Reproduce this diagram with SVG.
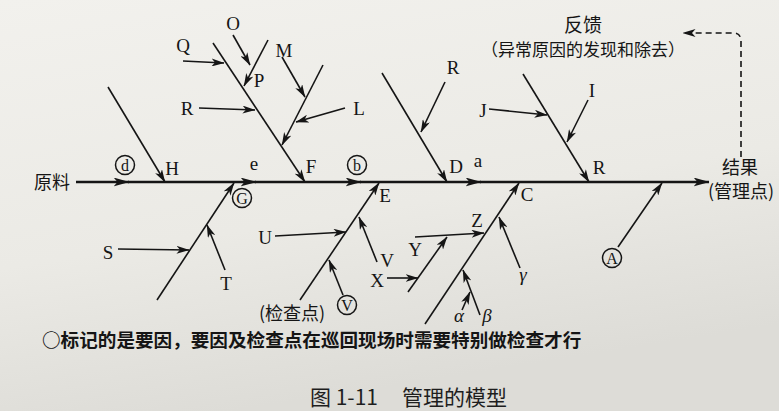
<svg xmlns="http://www.w3.org/2000/svg" width="779" height="411" viewBox="0 0 779 411">
<defs>
<linearGradient id="bg" x1="0" y1="0" x2="0.3" y2="1">
<stop offset="0" stop-color="#f2f1ed"/>
<stop offset="0.6" stop-color="#ebeae5"/>
<stop offset="1" stop-color="#dddcd7"/>
</linearGradient>
<marker id="ah" viewBox="0 0 13 8" refX="12.5" refY="4" markerWidth="13" markerHeight="8" orient="auto" markerUnits="userSpaceOnUse">
<path d="M0,0 L13,4 L0,8 L3.5,4 z" fill="#151515"/>
</marker>
<marker id="ahs" viewBox="0 0 16 9" refX="15.5" refY="4.5" markerWidth="16" markerHeight="9" orient="auto" markerUnits="userSpaceOnUse">
<path d="M0,0 L16,4.5 L0,9 L4,4.5 z" fill="#151515"/>
</marker>
</defs>
<style>
.ln{stroke:#151515;stroke-width:1.6;fill:none;marker-end:url(#ah)}
.sp{stroke:#151515;stroke-width:2.3;fill:none;marker-end:url(#ahs)}
.dash{stroke:#151515;stroke-width:1.6;fill:none;stroke-dasharray:6 4;marker-end:url(#ah)}
.lt{font-family:"Liberation Serif","DejaVu Serif",serif;font-size:19px;fill:#151515;text-anchor:middle}
.lc{font-family:"Liberation Serif","DejaVu Serif",serif;font-size:16px;fill:#151515;text-anchor:middle}
.gk{font-family:"Liberation Serif","DejaVu Serif",serif;font-size:19px;font-style:italic;fill:#151515;text-anchor:middle}
.cj{font-family:"Noto Sans CJK SC","Noto Sans",sans-serif;font-size:18px;fill:#151515;text-anchor:middle}
.cir{fill:none;stroke:#151515;stroke-width:1.5}
</style>
<rect width="779" height="411" fill="url(#bg)"/>

<g id="connectors">
<!-- spine -->
<line class="sp" x1="76" y1="182" x2="129" y2="182"/>
<line class="sp" x1="128" y1="182" x2="256" y2="182"/>
<line class="sp" x1="255" y1="182" x2="361" y2="182"/>
<line class="sp" x1="360" y1="182" x2="481" y2="182"/>
<line class="sp" x1="480" y1="182" x2="709" y2="182"/>
<!-- upper main bones -->
<line class="ln" x1="108" y1="87" x2="165" y2="182"/>
<line class="ln" x1="213" y1="43" x2="305" y2="182"/>
<line class="ln" x1="382" y1="73" x2="447" y2="182"/>
<line class="ln" x1="523" y1="74" x2="589" y2="182"/>
<!-- F bone subs -->
<line class="ln" x1="183" y1="61" x2="224" y2="63"/>
<line class="ln" x1="233" y1="35" x2="250" y2="65"/>
<line class="ln" x1="268" y1="40" x2="244" y2="86"/>
<line class="ln" x1="199" y1="108" x2="255" y2="110"/>
<line class="ln" x1="323" y1="65" x2="282" y2="145"/>
<line class="ln" x1="282" y1="57" x2="305" y2="97"/>
<line class="ln" x1="345" y1="108" x2="296" y2="122"/>
<!-- D bone sub -->
<line class="ln" x1="445" y1="82" x2="421" y2="132"/>
<!-- R bone subs -->
<line class="ln" x1="489" y1="109" x2="547" y2="115"/>
<line class="ln" x1="588" y1="100" x2="567" y2="142"/>
<!-- lower bones -->
<line class="ln" x1="157" y1="300" x2="234" y2="183"/>
<line class="ln" x1="118" y1="249" x2="189" y2="250"/>
<line class="ln" x1="225" y1="270" x2="207" y2="225"/>
<line class="ln" x1="300" y1="300" x2="379" y2="183"/>
<line class="ln" x1="275" y1="236" x2="346" y2="232"/>
<line class="ln" x1="377" y1="262" x2="359" y2="217"/>
<line class="ln" x1="343" y1="295" x2="329" y2="260"/>
<line class="ln" x1="387" y1="278" x2="418" y2="278"/>
<line class="ln" x1="408" y1="292" x2="447" y2="237"/>
<line class="ln" x1="415" y1="237" x2="484" y2="233"/>
<line class="ln" x1="425" y1="324" x2="519" y2="183"/>
<line class="ln" x1="520" y1="268" x2="499" y2="217"/>
<line class="ln" x1="480" y1="315" x2="463" y2="270"/>
<line class="ln" x1="462" y1="310" x2="470" y2="292"/>
<line class="ln" x1="618" y1="247" x2="662" y2="183"/>
<!-- feedback -->
<path class="dash" d="M741,157 L741,41 Q741,33 733,33 L683,33"/>
</g>

<g id="n-yuanliao"><text class="cj" x="52" y="189">原料</text></g>
<g id="n-d"><circle class="cir" cx="125" cy="165" r="9.5"/><text class="lc" x="125" y="170.5">d</text></g>
<g id="n-H"><text class="lt" x="172" y="174.5">H</text></g>
<g id="n-e"><text class="lt" x="254" y="170">e</text></g>
<g id="n-F"><text class="lt" x="311" y="172.5">F</text></g>
<g id="n-b"><circle class="cir" cx="357" cy="165" r="9.5"/><text class="lc" x="357" y="170.5">b</text></g>
<g id="n-O"><text class="lt" x="233" y="29.5">O</text></g>
<g id="n-Q"><text class="lt" x="183" y="51.5">Q</text></g>
<g id="n-P"><text class="lt" x="259" y="86.5">P</text></g>
<g id="n-M"><text class="lt" x="284" y="56.5">M</text></g>
<g id="n-R1"><text class="lt" x="187" y="114.5">R</text></g>
<g id="n-L"><text class="lt" x="359" y="114.5">L</text></g>
<g id="n-R2"><text class="lt" x="453" y="73.5">R</text></g>
<g id="n-D"><text class="lt" x="456" y="172.5">D</text></g>
<g id="n-a"><text class="lt" x="478" y="167">a</text></g>
<g id="n-J"><text class="lt" x="483" y="116.5">J</text></g>
<g id="n-I"><text class="lt" x="592" y="96.5">I</text></g>
<g id="n-R3"><text class="lt" x="599" y="173.5">R</text></g>
<g id="n-feedback">
<text class="cj" x="583" y="32" style="font-size:19px">反馈</text>
<text class="cj" x="583" y="55.5" style="font-size:17px">（异常原因的发现和除去）</text>
</g>
<g id="n-result">
<text class="cj" x="740" y="174">结果</text>
<text class="cj" x="741" y="198">(管理点)</text>
</g>
<g id="n-G"><circle class="cir" cx="242" cy="198" r="9.5"/><text class="lc" x="242" y="203.5">G</text></g>
<g id="n-S"><text class="lt" x="108" y="258.5">S</text></g>
<g id="n-T"><text class="lt" x="226" y="289.5">T</text></g>
<g id="n-E"><text class="lt" x="385" y="201.5">E</text></g>
<g id="n-U"><text class="lt" x="265" y="243.5">U</text></g>
<g id="n-V"><text class="lt" x="387" y="266.5">V</text></g>
<g id="n-Vc"><circle class="cir" cx="347" cy="305" r="9.5"/><text class="lc" x="347" y="310.5">V</text></g>
<g id="n-X"><text class="lt" x="377" y="286.5">X</text></g>
<g id="n-check"><text class="cj" x="292" y="320">(检查点)</text></g>
<g id="n-Y"><text class="lt" x="415" y="255.5">Y</text></g>
<g id="n-Z"><text class="lt" x="477" y="226.5">Z</text></g>
<g id="n-C"><text class="lt" x="527" y="200.5">C</text></g>
<g id="n-gamma"><text class="gk" x="523" y="281">γ</text></g>
<g id="n-alpha"><text class="gk" x="459" y="322">α</text></g>
<g id="n-beta"><text class="gk" x="487" y="322">β</text></g>
<g id="n-A"><circle class="cir" cx="612" cy="258" r="9.5"/><text class="lc" x="612" y="263.5">A</text></g>

<g id="note"><text x="42" y="346.5" style="font-family:'Noto Sans CJK SC','Noto Sans',sans-serif;font-size:18.6px;font-weight:bold;fill:#151515">○标记的是要因，要因及检查点在巡回现场时需要特别做检查才行</text></g>
<g id="caption">
<text x="310" y="405" style="font-family:'Noto Sans CJK SC','Noto Sans',sans-serif;font-size:21px;fill:#1e1e1e">图 1-11</text>
<text x="402" y="405" style="font-family:'Noto Sans CJK SC','Noto Sans',sans-serif;font-size:21px;fill:#1e1e1e">管理的模型</text>
</g>
</svg>
